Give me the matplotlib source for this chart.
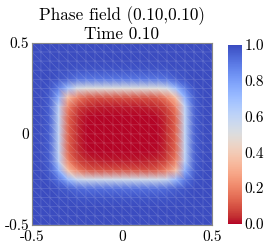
"""Phase field snapshot on a triangulated unit square."""
import matplotlib
matplotlib.use("Agg")
import matplotlib.pyplot as plt
import matplotlib.tri as mtri
import numpy as np

plt.rcParams["font.family"] = "serif"
plt.rcParams["font.serif"] = ["cmr10"]
plt.rcParams["axes.formatter.use_mathtext"] = True
plt.rcParams["axes.unicode_minus"] = False
plt.rcParams["mathtext.fontset"] = "cm"

# node coordinates of the 20x20 mesh
x_nodes = [-0.5, -0.45, -0.4, -0.35, -0.3, -0.25, -0.2, -0.15, -0.1, -0.05, 0.0,
           0.05, 0.1, 0.15, 0.2, 0.25, 0.3, 0.35, 0.4, 0.45, 0.5]
y_nodes = [0.5, 0.45, 0.4, 0.35, 0.3, 0.25, 0.2, 0.15, 0.1, 0.05, 0.0,
           -0.05, -0.1, -0.15, -0.2, -0.25, -0.3, -0.35, -0.4, -0.45, -0.5]

# phase value at each node, rows top (y=0.5) to bottom (y=-0.5)
phase_rows = """
1 1 1 1 1 1 1 1 1 1 1 1 1 1 1 1 1 1 1 1 1
1 1 1 1 1 1 1 1 1 1 1 1 1 1 1 1 1 1 1 1 1
1 1 1 1 1 1 1 1 1 1 1 1 1 1 1 1 1 1 1 1 1
1 1 1 .99 .99 .98 .98 .98 .98 .98 .98 .98 .98 .98 .98 .98 .99 .99 1 1 1
1 1 1 .98 .95 .91 .9 .9 .9 .9 .9 .9 .9 .9 .9 .91 .95 .98 1 1 1
1 1 .98 .88 .7 .54 .5 .5 .5 .5 .5 .5 .5 .5 .5 .54 .7 .88 .98 1 1
1 1 .96 .75 .35 .2 .12 .1 .1 .1 .1 .1 .1 .1 .12 .2 .35 .75 .96 1 1
1 1 .95 .62 .2 .08 .04 .03 .02 .02 .02 .02 .02 .03 .04 .08 .2 .62 .95 1 1
1 1 .95 .6 .14 .05 .01 0 0 0 0 0 0 0 .01 .05 .14 .6 .95 1 1
1 1 .95 .6 .13 .04 0 0 0 0 0 0 0 0 0 .04 .13 .6 .95 1 1
1 1 .95 .6 .13 .04 0 0 0 0 0 0 0 0 0 .04 .13 .6 .95 1 1
1 1 .95 .6 .13 .04 0 0 0 0 0 0 0 0 0 .04 .13 .6 .95 1 1
1 1 .95 .6 .14 .05 .01 0 0 0 0 0 0 0 .01 .05 .14 .6 .95 1 1
1 1 .95 .62 .2 .08 .04 .03 .02 .02 .02 .02 .02 .03 .04 .08 .2 .62 .95 1 1
1 1 .96 .75 .35 .2 .12 .1 .1 .1 .1 .1 .1 .1 .12 .2 .35 .75 .96 1 1
1 1 .98 .9 .72 .58 .55 .55 .55 .55 .55 .55 .55 .55 .55 .58 .72 .9 .98 1 1
1 1 1 .98 .96 .93 .92 .92 .92 .92 .92 .92 .92 .92 .92 .93 .96 .98 1 1 1
1 1 1 .99 .99 .98 .98 .98 .98 .98 .98 .98 .98 .98 .98 .98 .99 .99 1 1 1
1 1 1 1 1 1 1 1 1 1 1 1 1 1 1 1 1 1 1 1 1
1 1 1 1 1 1 1 1 1 1 1 1 1 1 1 1 1 1 1 1 1
1 1 1 1 1 1 1 1 1 1 1 1 1 1 1 1 1 1 1 1 1
"""

axis_ticks = [-0.5, 0.0, 0.5]
axis_labels = ["-0.5", "0", "0.5"]
cbar_ticks = [0.0, 0.2, 0.4, 0.6, 0.8, 1.0]
cbar_labels = ["0.0", "0.2", "0.4", "0.6", "0.8", "1.0"]
title = "Phase field (0.10,0.10)\nTime 0.10"

phase = np.array([[float(v) for v in r.split()] for r in phase_rows.strip().splitlines()])
nx, ny = len(x_nodes), len(y_nodes)
X, Y = np.meshgrid(x_nodes, y_nodes)

# two triangles per cell, split along the "\" diagonal
tris = []
for j in range(ny - 1):
    for i in range(nx - 1):
        tl = j * nx + i
        tr = tl + 1
        bl = tl + nx
        br = bl + 1
        tris.append([tl, bl, br])
        tris.append([tl, br, tr])
tri = mtri.Triangulation(X.ravel(), Y.ravel(), np.array(tris))

fig = plt.figure(figsize=(2.66, 2.45), dpi=100)
ax = fig.add_axes([0.120, 0.082, 0.677, 0.743])
tpc = ax.tripcolor(tri, phase.ravel(), shading="gouraud", cmap="coolwarm_r",
                   vmin=0, vmax=1)
ax.triplot(tri, color="white", linewidth=0.5, alpha=0.18)
ax.set_xlim(-0.5, 0.5); ax.set_ylim(-0.5, 0.5)
ax.set_xticks(axis_ticks); ax.set_xticklabels(axis_labels)
ax.set_yticks(axis_ticks); ax.set_yticklabels(axis_labels)
ax.tick_params(length=0, labelsize=11)
ax.tick_params(axis="x", pad=4)
ax.tick_params(axis="y", pad=2)
for s in ax.spines.values():
    s.set_color("#888888"); s.set_linewidth(0.8)
ax.set_title(title, fontsize=12.3, linespacing=1.15, pad=3)

cax = fig.add_axes([0.857, 0.086, 0.053, 0.731])
cb = fig.colorbar(tpc, cax=cax)
cb.set_ticks(cbar_ticks); cb.set_ticklabels(cbar_labels)
cb.ax.tick_params(length=0, labelsize=11, pad=2)
cb.outline.set_visible(False)

fig.savefig("out.png", dpi=100)
